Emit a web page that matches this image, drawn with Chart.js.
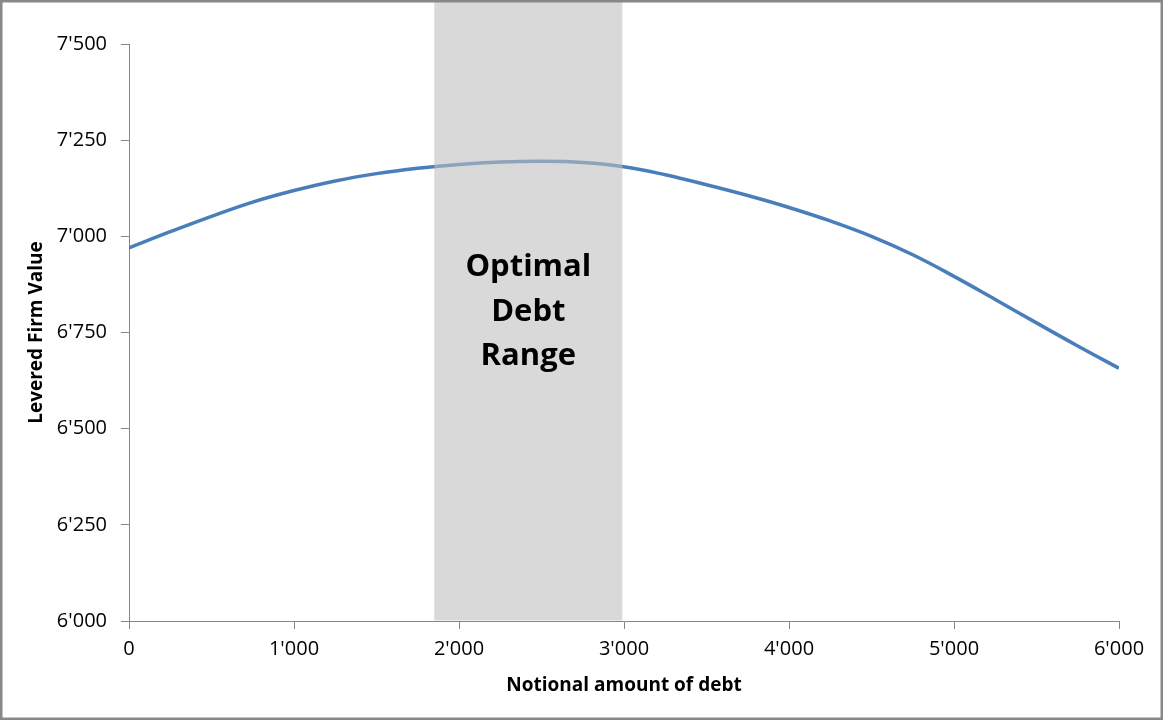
<!DOCTYPE html>
<html>
<head>
<meta charset="utf-8">
<script src="https://cdn.jsdelivr.net/npm/chart.js@4.4.1/dist/chart.umd.min.js"></script>
<style>
  html, body { margin: 0; padding: 0; background: #fff; }
  canvas { display: block; }
</style>
</head>
<body>
<canvas id="chart" width="1163" height="720"></canvas>
<script>
// Debt levels and levered firm value
const debt = [0, 250, 500, 750, 1000, 1250, 1500, 1750, 2000, 2250, 2500, 2750, 3000,
  3250, 3500, 3750, 4000, 4250, 4500, 4750, 5000, 5250, 5500, 5750, 6000];
const firmValue = [6970, 7012, 7052, 7089, 7119, 7144, 7163, 7177, 7187, 7193, 7195, 7192, 7181,
  7160, 7134, 7106, 7075, 7040, 7000, 6952, 6896, 6836, 6775, 6715, 6657];

// Shaded optimal range (notional debt)
const optimalRange = [1850, 2990];
const optimalLabel = ['Optimal', 'Debt', 'Range'];

const xTicks = { min: 0, max: 6000, step: 1000 };
const yTicks = { min: 6000, max: 7500, step: 250 };

const FONT = "'Open Sans', 'DejaVu Sans', sans-serif";
const AXIS_GREY = '#868686';

function fmt(v) {
  return String(v).replace(/\B(?=(\d{3})+(?!\d))/g, "'");
}

// white background + outer frame
const framePlugin = {
  id: 'frame',
  beforeDraw(chart) {
    const ctx = chart.ctx;
    ctx.save();
    ctx.fillStyle = '#fff';
    ctx.fillRect(0, 0, chart.width, chart.height);
    ctx.restore();
  },
  afterDraw(chart) {
    const ctx = chart.ctx;
    ctx.save();
    ctx.strokeStyle = '#888888';
    ctx.lineWidth = 2.5;
    ctx.strokeRect(1.25, 1.25, chart.width - 2.5, chart.height - 2.5);
    ctx.restore();
  }
};

// semi-transparent band drawn over the line, with its label
const bandPlugin = {
  id: 'band',
  afterDatasetsDraw(chart) {
    const ctx = chart.ctx;
    const x = chart.scales.x;
    const y = chart.scales.y;
    const x0 = x.getPixelForValue(optimalRange[0]);
    const x1 = x.getPixelForValue(optimalRange[1]);
    const bottom = chart.chartArea.bottom - 0.5;
    ctx.save();
    ctx.fillStyle = 'rgba(190, 190, 190, 0.59)';
    ctx.fillRect(x0, 0, x1 - x0, bottom);

    ctx.fillStyle = '#000';
    ctx.font = 'bold 31px ' + FONT;
    ctx.textAlign = 'center';
    ctx.textBaseline = 'middle';
    const cx = (x0 + x1) / 2;
    const cy = y.getPixelForValue(6803);
    const lh = 44.5;
    optimalLabel.forEach((t, i) => {
      ctx.fillText(t, cx, cy + (i - 1) * lh);
    });
    ctx.restore();
  }
};

const config = {
  type: 'line',
  data: {
    datasets: [{
      data: debt.map((d, i) => ({ x: d, y: firmValue[i] })),
      borderColor: '#4a7ebb',
      borderWidth: 3.5,
      pointRadius: 0,
      tension: 0.4,
      fill: false
    }]
  },
  options: {
    responsive: false,
    animation: false,
    layout: { padding: { left: 0, right: 44, top: 44, bottom: 0 } },
    plugins: {
      legend: { display: false },
      tooltip: { enabled: false }
    },
    scales: {
      x: {
        type: 'linear',
        min: xTicks.min,
        max: xTicks.max,
        afterFit: (s) => { s.height = 99; },
        ticks: {
          stepSize: xTicks.step,
          color: '#000',
          padding: 8,
          font: { family: FONT, size: 20 },
          callback: (v) => fmt(v)
        },
        grid: { drawOnChartArea: false, tickLength: 8, color: AXIS_GREY },
        border: { color: AXIS_GREY, width: 1 },
        title: {
          display: true,
          text: 'Notional amount of debt',
          color: '#000',
          font: { family: FONT, size: 19, weight: 'bold' },
          padding: { top: 0, bottom: 23.5 }
        }
      },
      y: {
        min: yTicks.min,
        max: yTicks.max,
        afterFit: (s) => { s.width = 129; },
        ticks: {
          stepSize: yTicks.step,
          color: '#000',
          padding: 14,
          font: { family: FONT, size: 20 },
          callback: (v) => fmt(v)
        },
        grid: { drawOnChartArea: false, tickLength: 8, color: AXIS_GREY },
        border: { color: AXIS_GREY, width: 1 },
        title: {
          display: true,
          text: 'Levered Firm Value',
          color: '#000',
          font: { family: FONT, size: 19, weight: 'bold' },
          padding: { top: 25.5, bottom: 0 }
        }
      }
    }
  },
  plugins: [framePlugin, bandPlugin]
};

new Chart(document.getElementById('chart'), config);
</script>
</body>
</html>
